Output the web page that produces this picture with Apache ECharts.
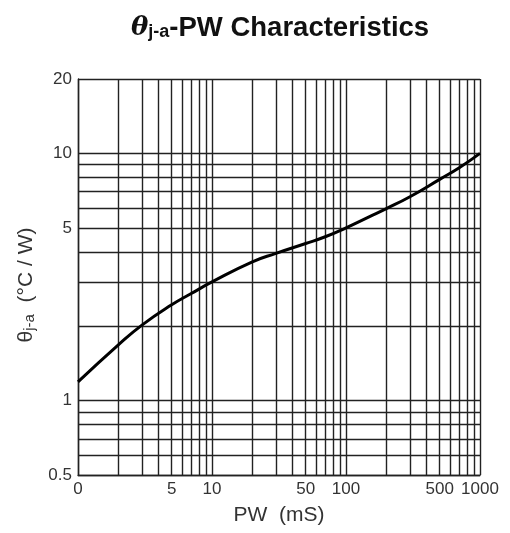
<!DOCTYPE html>
<html>
<head>
<meta charset="utf-8">
<script src="https://cdn.jsdelivr.net/npm/echarts@6/dist/echarts.min.js"></script>
<style>
 html, body { margin: 0; padding: 0; background: #fff; }
 #chart { width: 510px; height: 533px; }
</style>
</head>
<body>
<div id="chart"></div>
<script>
// pulse width (mS) and theta j-a (C/W)
var pw = [1, 2, 3, 5, 7, 10, 20, 30, 50, 70, 100, 150, 200, 300, 500, 700, 1000];
var theta = [1.19, 1.68, 2.02, 2.44, 2.71, 3.02, 3.64, 3.94, 4.32, 4.6, 5.0, 5.55, 5.98, 6.68, 7.85, 8.75, 10];

// grid lines and tick labels
var xGrid = [1, 2, 3, 4, 5, 6, 7, 8, 9, 10, 20, 30, 40, 50, 60, 70, 80, 90, 100, 200, 300, 400, 500, 600, 700, 800, 900, 1000];
var xLabels = [1, 5, 10, 50, 100, 500, 1000];
var yGrid = [0.5, 0.6, 0.7, 0.8, 0.9, 1, 2, 3, 4, 5, 6, 7, 8, 9, 10, 20];
var yLabels = [0.5, 1, 5, 10, 20];

window.onload = function () {
 var myChart = echarts.init(document.getElementById('chart'));
 var lineStyle = { color: '#222', width: 1.4 };

 var option = {
  animation: false,
  title: {
   text: '{t|θ}{s|j-a}{b|-PW Characteristics}',
   left: 126,
   top: 9,
   textStyle: {
    rich: {
     t: { fontFamily: 'DejaVu Serif', fontStyle: 'italic', fontSize: 26, color: '#111' },
     s: { fontFamily: 'Liberation Sans', fontWeight: 'bold', fontSize: 18, color: '#111', padding: [9, 0, 0, 0] },
     b: { fontFamily: 'Liberation Sans', fontWeight: 'bold', fontSize: 27.5, color: '#111' }
    }
   }
  },
  grid: { left: 78, right: 30, top: 79, bottom: 58 },
  xAxis: {
   type: 'log',
   logBase: 10,
   min: 1,
   max: 1000,
   name: 'PW  (mS)',
   nameLocation: 'middle',
   nameGap: 30,
   nameTextStyle: { fontFamily: 'Liberation Sans', fontSize: 21, color: '#333' },
   axisLine: { lineStyle: lineStyle },
   axisTick: { show: false, customValues: xGrid },
   splitLine: { show: true, lineStyle: lineStyle },
   axisLabel: {
    customValues: xLabels,
    fontFamily: 'Liberation Sans',
    fontSize: 17,
    color: '#333',
    margin: 6,
    formatter: function (v) { return v === 1 ? '0' : String(v); }
   }
  },
  yAxis: {
   type: 'log',
   logBase: 10,
   min: 0.5,
   max: 20,
   name: '{a|θ}{s|j-a}{a|  (°C / W)}',
   nameLocation: 'middle',
   nameGap: 36,
   nameTextStyle: {
    padding: [0, 16, 0, 0],
    rich: {
     a: { fontFamily: 'Liberation Sans', fontSize: 21, color: '#333' },
     s: { fontFamily: 'Liberation Sans', fontSize: 15, color: '#333', padding: [7, 0, 0, 0] }
    }
   },
   axisLine: { lineStyle: lineStyle },
   axisTick: { show: false, customValues: yGrid },
   splitLine: { show: true, lineStyle: lineStyle },
   axisLabel: {
    customValues: yLabels,
    fontFamily: 'Liberation Sans',
    fontSize: 17,
    color: '#333',
    margin: 6
   }
  },
  series: [{
   type: 'line',
   data: pw.map(function (x, i) { return [x, theta[i]]; }),
   smooth: 0.5,
   symbol: 'none',
   lineStyle: { color: '#000', width: 3 }
  }]
 };

 myChart.setOption(option);
};
</script>
</body>
</html>
